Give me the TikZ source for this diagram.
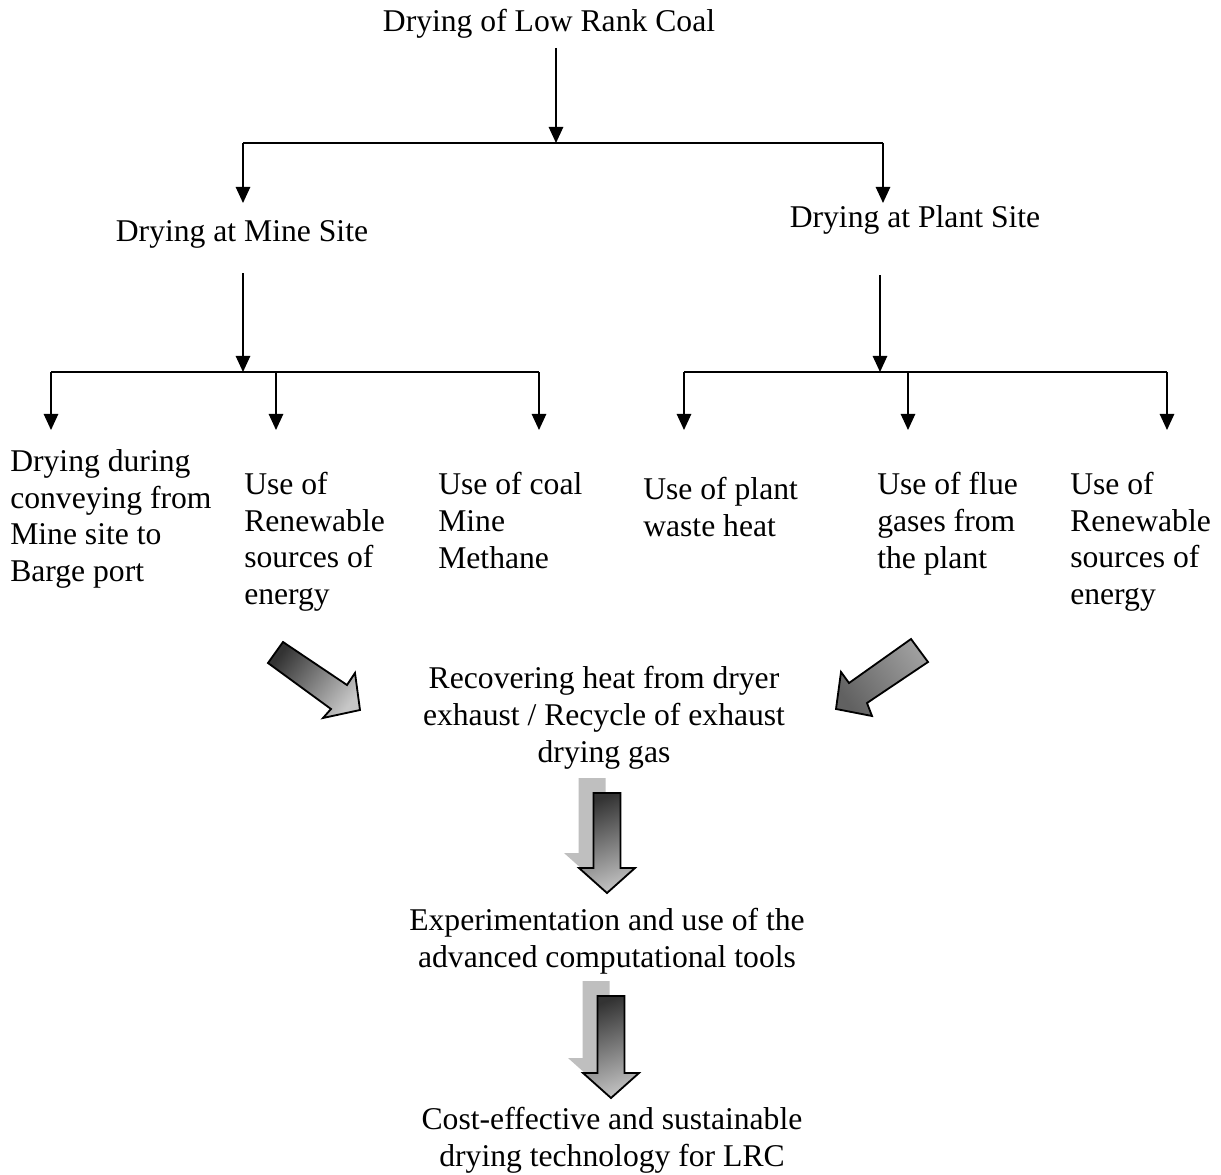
\documentclass[tikz,border=0pt]{standalone}
\usepackage{fontspec}
\setmainfont{Liberation Serif}
\usetikzlibrary{arrows.meta}
\tikzset{
  lbl/.style={inner sep=0pt, font=\fontsize{22.5}{26}\selectfont},
  mid/.style={lbl, align=center, anchor=base},
  leaf/.style={lbl, align=left, anchor=base west},
  arr/.style={line width=1pt, -{Triangle[length=4mm,width=3.6mm]}},
  bar/.style={line width=1.5pt},
  blk/.style={draw, line width=1.3pt, line join=miter},
}
\begin{document}
\begin{tikzpicture}[x=0.025cm, y=-0.025cm]
\useasboundingbox (0,0) rectangle (1221,1175);

% the coal and the two sites
\node[mid] (coal) at (549,32) {Drying of Low Rank Coal};
\node[mid] (mine) at (242,242) {Drying at Mine Site};
\node[mid] (plant) at (915,228) {Drying at Plant Site};

\coordinate (coalb) at (556,48);
\coordinate (top) at (556,143);
\coordinate (topl) at (243,143);
\coordinate (topr) at (883,143);
\coordinate (minet) at (243,203);
\coordinate (plantt) at (883,203);
\draw[arr] (coalb) -- (top);
\draw[bar] (topl) -- (topr);
\draw[arr] (topl) -- (minet);
\draw[arr] (topr) -- (plantt);

% mine site branches
\coordinate (mineb) at (243,273);
\coordinate (mj) at (243,372);
\draw[arr] (mineb) -- (mj);
\foreach \n/\x in {a/51,b/276,c/539}
{
    \coordinate (m\n) at (\x,430);
    \draw[arr] (m\n |- mj) -- (m\n);
}
\draw[bar] (ma |- mj) -- (mc |- mj);

% plant site branches
\coordinate (plantb) at (880,275);
\coordinate (pj) at (880,372);
\draw[arr] (plantb) -- (pj);
\foreach \n/\x in {a/684,b/908,c/1167}
{
    \coordinate (p\n) at (\x,430);
    \draw[arr] (p\n |- pj) -- (p\n);
}
\draw[bar] (pa |- pj) -- (pc |- pj);

% base = last line
\node[leaf] (convey) at (10,581.5) {Drying during\\conveying from\\Mine site to\\Barge port};
\node[leaf] (renewm) at (244,604.5) {Use of\\Renewable\\sources of\\energy};
\node[leaf] (methane) at (438,568) {Use of coal\\Mine\\Methane};
\node[leaf] (waste) at (643,536.5) {Use of plant\\waste heat};
\node[leaf] (flue) at (877,568) {Use of flue\\gases from\\the plant};
\node[leaf] (renewp) at (1070,604.5) {Use of\\Renewable\\sources of\\energy};

% block arrows
\draw[blk, top color=black!80, bottom color=black!22, shading angle=53]
  (283,642) -- (347,685) -- (355,673) -- (360,710) -- (323,718) -- (331,709) -- (268,663) -- cycle;
\draw[blk, top color=black!38, bottom color=black!62, shading angle=-55]
  (911,639) -- (928,662) -- (867,703) -- (872,716) -- (836,709) -- (841,672) -- (849,683) -- cycle;

\node[mid] (recover) at (604,762) {Recovering heat from dryer\\exhaust / Recycle of exhaust\\drying gas};

\foreach \cx/\ty/\hb in {607/793/868, 611/996/1073}
{
    \fill[black!25, shift={(-15,-15)}] (\cx-13.5,\ty) -- (\cx+13.5,\ty) -- (\cx+13.5,\hb) -- (\cx+28,\hb)
      -- (\cx,\hb+25) -- (\cx-28,\hb) -- (\cx-13.5,\hb) -- cycle;
    \draw[blk, top color=black!80, bottom color=black!25, shading angle=20]
      (\cx-13.5,\ty) -- (\cx+13.5,\ty) -- (\cx+13.5,\hb) -- (\cx+28,\hb)
      -- (\cx,\hb+25) -- (\cx-28,\hb) -- (\cx-13.5,\hb) -- cycle;
}

\node[mid] (exper) at (607,967) {Experimentation and use of the\\advanced computational tools};
\node[mid] (cost) at (612,1166) {Cost-effective and sustainable\\drying technology for LRC};

\end{tikzpicture}
\end{document}
